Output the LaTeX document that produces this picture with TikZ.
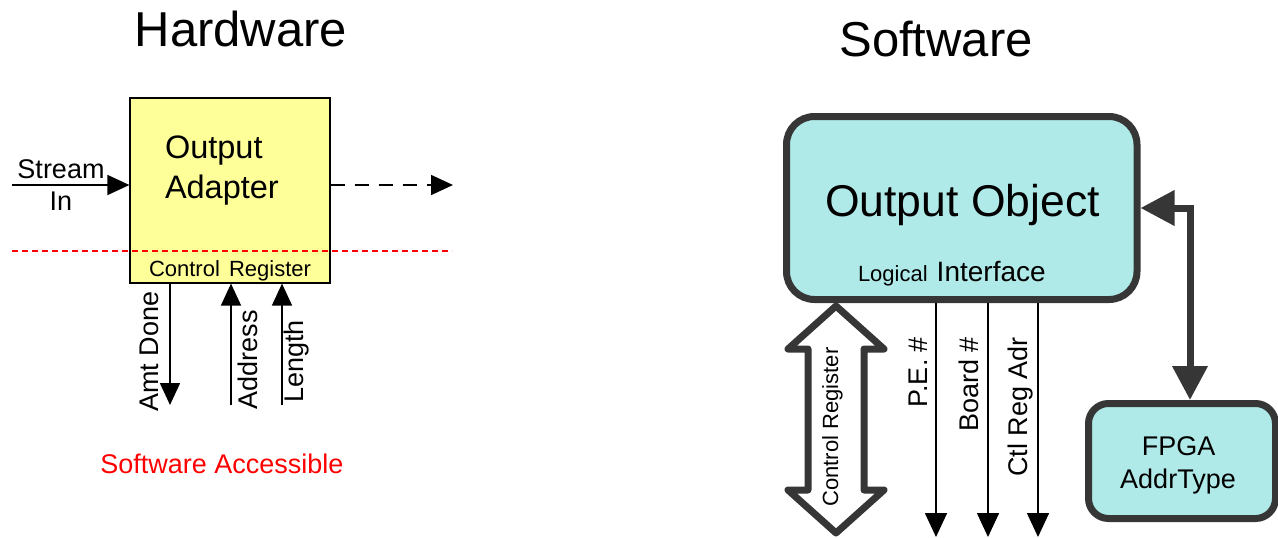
\documentclass[tikz,border=0pt]{standalone}
\usepackage{fontspec}
\setmainfont{Liberation Sans}
\usetikzlibrary{arrows.meta}
\definecolor{padyellow}{RGB}{255,255,153}
\definecolor{objcyan}{RGB}{175,234,232}
\definecolor{edgegray}{RGB}{54,54,54}
\newcommand{\fs}[1]{\fontsize{#1}{#1}\selectfont}
\begin{document}
\begin{tikzpicture}[x=1pt,y=-1pt,
  txt/.style={inner sep=0pt, outer sep=0pt},
  lbl/.style={txt, font=\fs{27}},
  vlbl/.style={lbl, rotate=90},
  thinarrow/.style={line width=1.6pt, -{Triangle[length=22pt,width=20pt]}},
  swarrow/.style={line width=1.6pt, -{Triangle[length=24pt,width=22pt]}},
  heavy/.style={draw=edgegray, line width=7pt,
    {Triangle[length=34pt,width=34pt]}-{Triangle[length=34pt,width=34pt]}},
  hwbox/.style={draw, line width=1.2pt, fill=padyellow},
  swbox/.style={draw=edgegray, line width=7pt, fill=objcyan}]
\useasboundingbox (0,0) rectangle (1278,538);

% ---------------- Hardware side ----------------
\node[txt, anchor=base, font=\fs{49}] (hwtitle) at (241,46.7) {Hardware};

\node[hwbox, minimum width=200pt, minimum height=185pt] (adapter) at (230,190.5) {};
\node[txt, anchor=base west, font=\fs{32.5}] (outA) at (165,158) {Output};
\node[txt, anchor=base west, font=\fs{32.5}] (outB) at (165,198) {Adapter};
\node[txt, anchor=base, font=\fs{22}] (ctlreg) at (230,276.7) {Control\hspace{3pt} Register};

% boundary of the software accessible part
\coordinate (redL) at (12,251);
\coordinate (redR) at (452,251);
\draw[red, line width=1.5pt, dash pattern=on 6pt off 4pt] (redL) -- (redR);

% stream input and output
\coordinate (sin) at (12,185);
\draw[thinarrow] (sin) -- (sin -| adapter.west);
\node[lbl, anchor=base] (streamlbl) at (61,178) {Stream};
\node[lbl, anchor=base] (inlbl) at (61,210) {In};
\coordinate (dout) at (453,185);
\draw[thinarrow, dash pattern=on 14pt off 10pt] (dout -| adapter.east) -- (dout);

% register signals
\coordinate (amt) at (170,405);
\coordinate (addr) at (231,405);
\coordinate (len) at (282,405);
\draw[thinarrow] (amt |- adapter.south) -- (amt);
\draw[thinarrow] (addr) -- (addr |- adapter.south);
\draw[thinarrow] (len) -- (len |- adapter.south);
\node[vlbl, anchor=base] (amtlbl) at (158,351.5) {Amt Done};
\node[vlbl, anchor=base] (addrlbl) at (257,360) {Address};
\node[vlbl, anchor=base] (lenlbl) at (303,361.5) {Length};

\node[lbl, anchor=base, text=red] (access) at (222,473.3) {Software Accessible};

% ---------------- Software side ----------------
\node[txt, anchor=base, font=\fs{49}] (swtitle) at (936,56.7) {Software};

\node[swbox, rounded corners=28pt, minimum width=350.5pt, minimum height=183pt]
  (obj) at (961.75,208) {};
\node[txt, anchor=base, font=\fs{44.5}] (objname) at (962.5,216.7) {Output Object};
\node[txt, anchor=base west] (logif) at (858,281.7)
  {{\fs{22}Logical}\hspace{9pt}{\fs{28}Interface}};

\node[swbox, rounded corners=20pt, minimum width=187pt, minimum height=115pt]
  (fpga) at (1182,461) {};
\node[lbl, anchor=base] (fpgaA) at (1178.5,455) {FPGA};
\node[lbl, anchor=base] (fpgaB) at (1178,488) {AddrType};

% link between the object and its address type
\coordinate (bend) at (1190,208);
\draw[heavy] (obj.east) -| (fpga.north -| bend);

% control register block arrow
\draw[draw=edgegray, fill=white, line width=7pt, line join=round]
  (836,306) -- (884,349) -- (864,349) -- (864,490) -- (884,490) -- (836,533)
  -- (788,490) -- (808,490) -- (808,349) -- (788,349) -- cycle;
\node[txt, rotate=90, font=\fs{22}] (crlbl) at (832.5,427) {Control Register};

% addressing signals
\coordinate (pe) at (936,537);
\coordinate (board) at (988,537);
\coordinate (cra) at (1038,537);
\draw[swarrow] (pe |- obj.south) -- (pe);
\draw[swarrow] (board |- obj.south) -- (board);
\draw[swarrow] (cra |- obj.south) -- (cra);
\node[vlbl, anchor=base east] (pelbl) at (927.5,337) {P.E. \#};
\node[vlbl, anchor=base east] (boardlbl) at (978,337) {Board \#};
\node[vlbl, anchor=base east] (cralbl) at (1027.5,337) {Ctl Reg Adr};
\end{tikzpicture}
\end{document}
